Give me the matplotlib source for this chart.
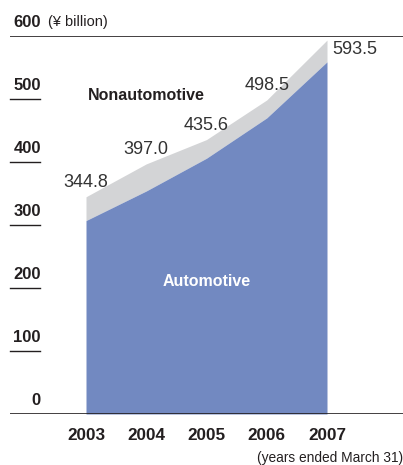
import matplotlib
matplotlib.use("Agg")
import matplotlib.pyplot as plt
import matplotlib.transforms as mtransforms

years = [2003, 2004, 2005, 2006, 2007]
automotive = [307, 354, 406, 470, 559]
total = [344.8, 397.0, 435.6, 498.5, 593.5]
total_labels = ["344.8", "397.0", "435.6", "498.5", "593.5"]
y_ticks = [0, 100, 200, 300, 400, 500, 600]

blue = "#7289C1"
gray = "#D3D4D6"
dark = "#231F20"

plt.rcParams['font.family'] = ['Liberation Sans', 'DejaVu Sans']

W, H = 403, 465
PT = 0.72  # points per pixel at dpi 100
fig = plt.figure(figsize=(W / 100, H / 100), dpi=100)
ax = fig.add_axes([10 / W, (H - 414) / H, 393 / W, 378 / H])
ax.set_ylim(0, 600)
px_per_year = (327 - 86) / 4
ax.set_xlim(2003 - (86 - 10) / px_per_year, 2007 + (403 - 327) / px_per_year)
ax.axis('off')

ax.fill_between(years, automotive, total, color=gray, lw=0)
ax.fill_between(years, 0, automotive, color=blue, lw=0)

# baseline and top line
ax.axhline(0, color=dark, lw=1.2)
ax.axhline(600, color=dark, lw=1.2)

blend = mtransforms.blended_transform_factory(ax.transAxes, ax.transData)
for v in y_ticks:
    if v not in (0, 600):
        ax.plot([0, 30 / 393], [v, v], transform=blend, color=dark, lw=1.0, clip_on=False)
    ax.annotate(str(v), (31 / 393, v), xycoords=blend, xytext=(0, 13.5 * PT),
                textcoords='offset points', ha='right', va='center',
                fontsize=12, fontweight='bold', color=dark)

ax.annotate("(¥ billion)", (38 / 393, 600), xycoords=blend, xytext=(0, 14 * PT),
            textcoords='offset points', ha='left', va='center', fontsize=10.5, color=dark)

# value labels
for i, (yr, t, lab) in enumerate(zip(years, total, total_labels)):
    if i < 4:
        ax.annotate(lab, (yr, t), xytext=(0, 14 * PT), textcoords='offset points',
                    ha='center', va='center', fontsize=13, color="#333333")
    else:
        ax.annotate(lab, (yr, t), xytext=(5 * PT, -9.5 * PT), textcoords='offset points',
                    ha='left', va='center', fontsize=13, color="#333333")

# year labels
for yr in years:
    ax.annotate(str(yr), (yr, 0), xytext=(0, -21 * PT), textcoords='offset points',
                ha='center', va='center', fontsize=12.3, fontweight='bold', color=dark)

ax.text(2003.03, 505, "Nonautomotive", ha='left', va='center', fontsize=11.5,
        fontweight='bold', color=dark)
ax.text(2005, 210, "Automotive", ha='center', va='center', fontsize=11.5,
        fontweight='bold', color='white')

fig.text(1.0, 7 / H, "(years ended March 31)", ha='right', va='center', fontsize=9.9, color=dark)

fig.savefig("out.png", dpi=100)
